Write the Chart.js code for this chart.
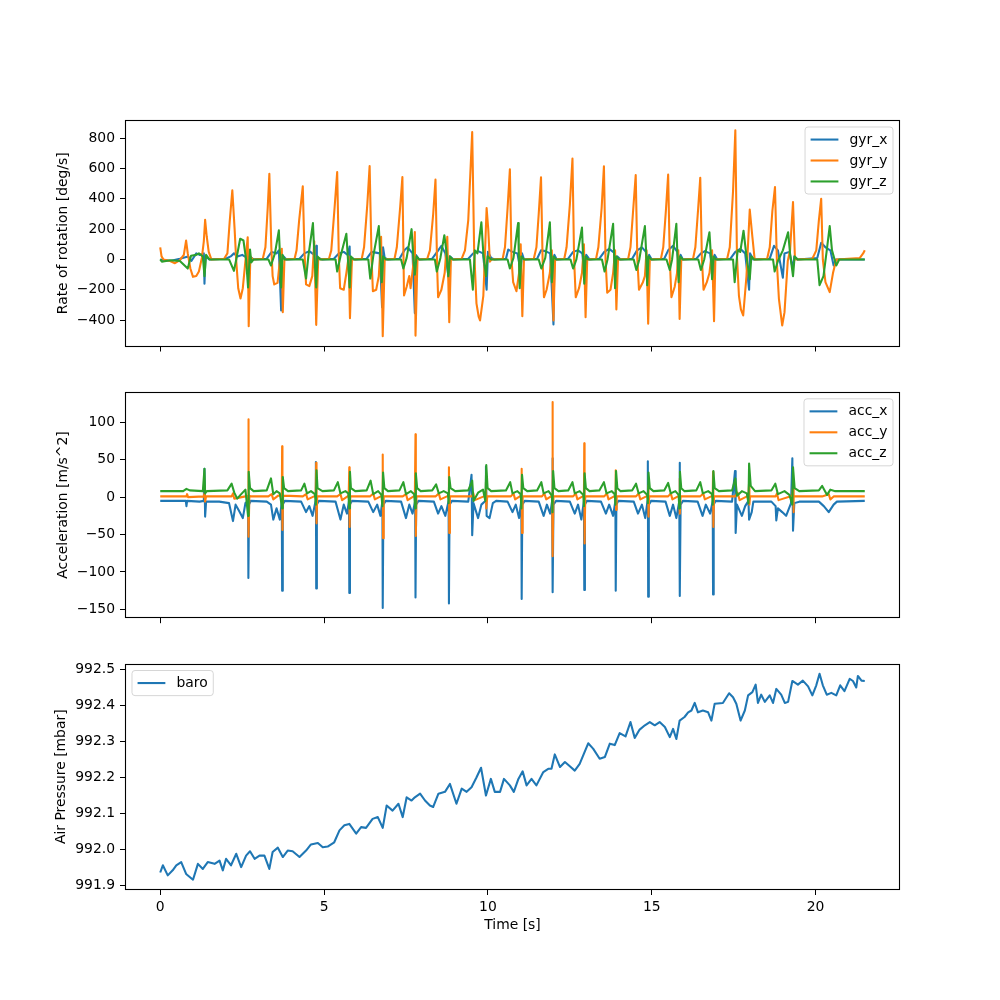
<!DOCTYPE html>
<html><head><meta charset="utf-8">
<script src="https://cdn.jsdelivr.net/npm/chart.js"></script>
<style>
html,body{margin:0;padding:0;background:#fff;}
#wrap{position:relative;width:1000px;height:1000px;background:#fff;}
canvas{position:absolute;left:0;}
</style></head><body>
<div id="wrap">
<canvas id="c1" width="1000" height="370" style="top:0px"></canvas>
<canvas id="c2" width="1000" height="280" style="top:370px"></canvas>
<canvas id="c3" width="1000" height="360" style="top:640px"></canvas>
</div>
<script>
// ---------------- DATA ----------------
const xTicks = [0, 5, 10, 15, 20];
const gyrTicks = [-400, -200, 0, 200, 400, 600, 800];
const accTicks = [-150, -100, -50, 0, 50, 100];
const baroTicks = [991.9, 992.0, 992.1, 992.2, 992.3, 992.4, 992.5];

const gyrLabels = ['gyr_x', 'gyr_y', 'gyr_z'];
const accLabels = ['acc_x', 'acc_y', 'acc_z'];
const baroLabels = ['baro'];

// gyr_x [deg/s]
const gyrXTime = [0,0.30,0.60,0.85,0.95,1.10,1.20,1.33,1.35,1.38,1.50,2.00,2.15,2.25,2.35,2.50,2.65,2.69,2.72,2.85,
3.25,3.40,3.55,3.62,3.69,3.72,3.85,
4.25,4.40,4.55,4.70,4.76,4.78,4.82,4.95,
5.30,5.45,5.60,5.72,5.78,5.80,5.84,5.95,
6.30,6.45,6.58,6.70,6.77,6.80,6.85,6.95,
7.30,7.45,7.55,7.70,7.77,7.80,7.90,
8.30,8.45,8.58,8.70,8.80,8.84,8.95,
9.40,9.55,9.70,9.85,9.96,10.00,10.10,10.20,
10.55,10.62,10.75,10.90,11.00,11.04,11.10,
11.50,11.62,11.75,11.90,12.00,12.03,12.10,
12.45,12.60,12.75,12.88,12.97,13.00,13.10,
13.40,13.55,13.70,13.85,13.91,13.95,14.05,
14.40,14.55,14.70,14.82,14.88,14.92,15.00,
15.38,15.50,15.65,15.78,15.85,15.88,15.95,
16.36,16.50,16.62,16.78,16.89,16.92,17.00,
17.40,17.55,17.70,17.85,17.97,18.00,18.10,
18.60,18.73,18.85,19.00,19.05,19.20,19.30,19.35,19.45,
20.05,20.17,20.30,20.45,20.55,20.62,21.50];
const gyrX = [0,-10,5,20,-10,40,30,40,-160,20,0,5,20,40,20,30,10,-60,20,0,
5,50,40,60,-337,30,0,
5,40,55,30,90,-60,10,0,
5,40,50,30,85,-120,10,0,
5,50,45,40,-315,80,10,0,
5,60,80,40,-355,30,0,
5,50,90,40,-120,20,0,
5,40,55,40,-200,50,10,0,
5,65,50,40,-80,40,0,
5,60,55,40,-430,30,0,
5,50,60,40,-150,30,0,
5,50,70,45,-100,20,0,
5,60,80,50,-130,30,0,
5,60,90,50,-100,30,0,
5,40,55,40,-150,30,0,
5,50,70,40,-200,40,0,
5,90,60,-120,40,50,-60,20,0,
10,110,80,60,-40,0,0];

// gyr_y [deg/s]
const gyrYTime = [0,0.04,0.10,0.30,0.45,0.60,0.72,0.79,0.84,0.92,1.00,1.10,1.18,1.27,1.33,1.37,1.42,1.48,1.56,1.95,
2.05,2.12,2.20,2.27,2.32,2.38,2.45,2.52,2.60,2.67,2.70,2.75,2.82,
3.13,3.21,3.28,3.33,3.39,3.43,3.48,3.58,3.65,3.71,3.74,3.79,
4.10,4.16,4.24,4.35,4.40,4.45,4.55,4.64,4.70,4.76,4.82,
5.15,5.22,5.32,5.40,5.45,5.49,5.60,5.68,5.75,5.79,5.85,
6.15,6.22,6.32,6.39,6.45,6.49,6.59,6.67,6.74,6.79,6.85,
7.15,7.22,7.32,7.39,7.44,7.52,7.60,7.64,7.72,7.77,7.79,7.85,
8.15,8.23,8.33,8.40,8.45,8.48,8.58,8.68,8.76,8.82,8.87,
9.20,9.30,9.40,9.52,9.58,9.65,9.72,9.76,9.86,9.92,9.96,10.01,10.06,10.11,
10.45,10.52,10.60,10.67,10.72,10.77,10.87,10.95,11.00,11.05,11.10,
11.40,11.48,11.55,11.62,11.67,11.71,11.79,11.89,11.95,12.00,12.05,
12.33,12.40,12.50,12.58,12.63,12.68,12.78,12.87,12.93,12.98,13.03,
13.30,13.37,13.47,13.54,13.59,13.64,13.74,13.82,13.88,13.92,13.97,
14.28,14.35,14.43,14.51,14.56,14.61,14.73,14.79,14.84,14.89,14.94,
15.28,15.35,15.43,15.50,15.55,15.60,15.70,15.77,15.81,15.85,15.90,
16.26,16.33,16.41,16.48,16.53,16.58,16.68,16.76,16.84,16.90,16.94,
17.30,17.38,17.48,17.55,17.60,17.66,17.72,17.79,17.89,17.99,18.07,18.14,
18.52,18.60,18.68,18.76,18.82,18.88,18.98,19.05,19.15,19.22,19.31,19.37,
19.90,20.02,20.10,20.17,20.22,20.30,20.43,20.53,20.63,21.35,21.45,21.50];
const gyrY = [80,20,0,-10,-25,-5,30,125,40,-60,-115,-110,-80,10,120,262,150,50,0,5,
40,250,456,200,-10,-190,-258,-190,-10,147,-441,20,0,
5,80,340,566,80,-110,-165,-155,-10,70,-348,0,
5,60,260,483,60,-165,-176,-110,120,-432,0,
5,60,340,577,20,-190,-200,-90,20,-388,0,
5,80,365,617,0,-210,-200,-110,150,-507,0,
5,80,340,544,-238,-180,-110,-190,-40,181,-503,0,
5,60,300,527,-50,-250,-200,-90,150,-414,0,
5,60,260,842,60,-290,-380,-403,-240,100,339,200,-15,0,
5,80,340,595,0,-150,-210,-90,100,-375,0,
5,80,300,542,-15,-250,-200,-90,60,-403,0,
5,80,360,666,0,-250,-190,-90,100,-381,0,
5,80,340,615,0,-220,-200,-90,60,-331,0,
5,80,320,557,0,-200,-150,-110,60,-425,0,
5,80,320,560,0,-250,-180,-90,60,-393,0,
5,80,320,540,0,-200,-150,-90,60,-408,0,
5,80,450,853,20,-240,-330,-370,-110,330,150,0,
5,80,320,478,-30,-260,-436,-350,-10,60,379,0,
5,60,260,401,0,-150,-216,-90,0,10,40,60];

// gyr_z [deg/s]
const gyrZTime = [0.00,0.05,0.30,0.60,0.84,0.94,1.10,1.18,1.30,1.35,1.40,1.50,
2.10,2.25,2.32,2.44,2.54,2.62,2.68,2.74,2.78,2.85,
3.30,3.38,3.50,3.62,3.66,3.69,3.73,3.80,
4.35,4.45,4.52,4.66,4.70,4.76,4.80,4.88,
5.35,5.40,5.50,5.68,5.72,5.78,5.82,5.90,
6.35,6.41,6.50,6.67,6.71,6.76,6.80,6.88,
7.35,7.42,7.52,7.67,7.72,7.77,7.82,7.90,
8.38,8.44,8.55,8.67,8.73,8.79,8.84,8.92,
9.45,9.54,9.60,9.68,9.80,9.86,9.94,9.99,10.10,
10.60,10.67,10.78,10.92,10.94,10.97,11.02,11.10,
11.55,11.63,11.75,11.89,11.92,11.95,12.00,12.08,
12.52,12.60,12.70,12.87,12.90,12.94,12.98,13.05,
13.48,13.56,13.65,13.82,13.85,13.88,13.92,14.00,
14.45,14.53,14.62,14.79,14.83,14.86,14.90,14.98,
15.45,15.55,15.62,15.75,15.78,15.82,15.86,15.95,
16.42,16.50,16.60,16.76,16.80,16.84,16.88,16.95,
17.48,17.53,17.62,17.70,17.80,17.88,17.99,18.04,18.12,
18.70,18.75,18.85,19.00,19.16,19.22,19.31,19.36,19.45,
20.05,20.12,20.24,20.34,20.43,20.50,20.63,20.72,21.50];
const gyrZ = [0,-15,-5,-10,-60,25,30,40,20,-110,30,0,
0,-75,0,137,125,0,-185,65,-20,0,
0,-40,40,192,0,-185,30,0,
0,-126,20,240,50,-185,20,0,
0,-80,20,170,30,-185,20,0,
0,-126,20,220,40,-150,20,0,
0,-60,10,200,30,-100,20,0,
0,-80,10,160,60,-110,20,0,
0,-200,60,40,245,40,-110,20,0,
0,-60,10,240,60,-190,20,0,
0,-60,10,245,60,-150,20,0,
0,-60,0,210,40,-160,20,0,
0,-80,0,235,40,-190,20,0,
0,-70,0,220,40,-170,20,0,
0,-70,0,235,40,-150,20,0,
0,-70,0,180,40,-130,20,0,
0,-150,60,50,190,40,-130,20,0,
0,-80,-10,60,180,40,-110,20,0,
0,-170,-110,60,220,60,-40,0,0];

// acc_x [m/s^2]
const accXTime = [0.00,0.50,0.78,0.80,0.82,1.20,1.33,1.35,1.37,1.40,1.80,
2.10,2.22,2.30,2.40,2.52,2.60,2.68,2.69,2.71,2.76,
3.25,3.38,3.45,3.55,3.65,3.71,3.72,3.74,3.80,
4.30,4.45,4.55,4.65,4.74,4.75,4.76,4.78,4.84,
5.35,5.50,5.60,5.70,5.76,5.77,5.79,5.85,
6.35,6.50,6.62,6.72,6.78,6.79,6.81,6.88,
7.35,7.50,7.60,7.70,7.78,7.79,7.81,7.88,
8.35,8.48,8.58,8.70,8.80,8.81,8.83,8.90,
9.40,9.50,9.52,9.56,9.70,9.80,9.92,9.94,9.96,10.05,10.15,10.25,
10.60,10.75,10.85,10.95,11.02,11.03,11.05,11.12,
11.55,11.70,11.80,11.90,11.96,11.97,11.98,12.00,12.08,
12.50,12.65,12.75,12.85,12.93,12.94,12.96,13.02,
13.45,13.60,13.70,13.82,13.89,13.90,13.92,13.98,
14.45,14.58,14.70,14.80,14.87,14.88,14.89,14.91,14.98,
15.42,15.55,15.65,15.75,15.84,15.85,15.86,15.88,15.95,
16.40,16.55,16.65,16.78,16.86,16.87,16.89,16.95,
17.45,17.54,17.56,17.60,17.75,17.85,17.95,17.97,18.05,18.10,
18.65,18.78,18.80,18.85,18.98,19.10,19.25,19.29,19.31,19.35,19.50,
20.10,20.25,20.40,20.55,20.65,21.50];
const accX = [-5,-5,-5,-12,-5,-6,-5,38,-26,-6,-6,
-8,-32,-10,-18,-28,-8,-5,-108,-10,-5,
-6,-10,-30,-15,-30,-5,-125,-10,-5,
-6,-20,-12,-25,-5,47,-122,-10,-5,
-6,-30,-10,-22,-5,-128,-10,-5,
-6,-20,-10,-25,-5,-148,-10,-5,
-6,-28,-10,-22,-5,-134,-10,-5,
-6,-22,-12,-25,-5,-142,-10,-5,
-6,30,-51,-8,-28,-10,-5,41,-25,-28,-8,-5,
-6,-20,-10,-28,-5,-136,-10,-5,
-6,-25,-10,-22,-5,52,-127,-10,-5,
-6,-22,-10,-30,-5,-124,-10,-5,
-6,-22,-10,-25,-5,-125,-10,-5,
-6,-22,-10,-28,-5,48,-133,-10,-5,
-6,-25,-10,-28,-5,46,-132,-10,-5,
-6,-25,-10,-22,-5,-130,-10,-5,
-6,35,-48,-10,-25,-12,-5,-30,-20,-6,
-6,-12,-31,-15,-20,-25,-8,52,-45,-8,-6,
-6,-12,-20,-10,-6,-5];

// acc_y [m/s^2]
const accYTime = [0.00,0.80,0.82,0.85,1.33,1.35,1.37,1.40,
2.18,2.22,2.26,2.60,2.68,2.69,2.70,2.72,2.76,
3.30,3.40,3.45,3.60,3.71,3.72,3.73,3.75,
4.35,4.45,4.50,4.74,4.76,4.77,4.79,
5.40,5.50,5.55,5.75,5.77,5.78,5.80,
6.40,6.50,6.55,6.77,6.79,6.80,6.82,
7.40,7.50,7.55,7.77,7.79,7.80,7.82,
8.40,8.50,8.55,8.80,8.81,8.82,8.84,
9.52,9.55,9.60,9.93,9.94,9.95,9.98,
10.70,10.78,10.83,11.01,11.03,11.04,11.06,
11.65,11.72,11.78,11.96,11.97,11.98,12.00,
12.60,12.68,12.73,12.93,12.94,12.95,12.97,
13.55,13.63,13.68,13.89,13.90,13.91,13.93,
14.52,14.60,14.65,14.88,14.89,14.90,14.92,
15.50,15.58,15.63,15.84,15.85,15.86,15.88,
16.48,16.57,16.62,16.86,16.87,16.88,16.90,
17.55,17.62,17.68,17.95,17.97,17.98,18.00,
18.78,18.82,18.87,19.29,19.31,19.32,19.34,
20.20,20.40,20.45,20.55,21.50];
const accY = [1,1,4,0,1,5,-6,1,
1,5,-2,1,2,104,-53,2,1,
1,4,-3,2,2,68,-44,2,
1,4,-3,2,46,-35,1,
1,4,-4,2,40,-40,1,
1,5,-3,2,57,-55,1,
1,4,-4,2,84,-52,1,
1,5,-3,2,40,-48,1,
1,6,-4,2,20,-15,1,
1,5,-3,2,38,-48,1,
1,5,-3,2,127,-79,1,
1,5,-3,2,72,-62,1,
1,5,-3,2,36,-17,1,
1,5,-3,2,15,-26,1,
1,5,-3,2,25,-22,1,
1,5,-3,2,34,-40,1,
1,6,-4,2,20,-10,1,
1,5,-4,2,15,-20,1,
1,4,-3,1,1];

// acc_z [m/s^2]
const accZTime = [0.00,0.70,0.80,0.90,1.30,1.35,1.37,1.42,
2.05,2.18,2.26,2.35,2.45,2.60,2.68,2.70,2.74,2.85,
3.25,3.38,3.45,3.55,3.65,3.72,3.74,3.78,3.90,
4.30,4.40,4.48,4.60,4.72,4.75,4.77,4.80,4.95,
5.30,5.42,5.50,5.65,5.74,5.77,5.79,5.82,5.95,
6.30,6.42,6.50,6.65,6.75,6.78,6.80,6.84,6.95,
7.30,7.42,7.50,7.65,7.75,7.78,7.80,7.84,7.95,
8.30,8.42,8.50,8.65,8.78,8.80,8.82,8.86,9.00,
9.40,9.52,9.56,9.70,9.85,9.92,9.95,9.99,10.10,
10.55,10.68,10.75,10.90,11.00,11.02,11.04,11.08,11.20,
11.50,11.63,11.70,11.85,11.95,11.97,11.99,12.03,12.15,
12.45,12.58,12.65,12.80,12.91,12.93,12.95,12.99,13.10,
13.40,13.54,13.62,13.78,13.87,13.89,13.91,13.95,14.05,
14.40,14.52,14.60,14.75,14.86,14.88,14.90,14.94,15.05,
15.38,15.50,15.58,15.72,15.82,15.84,15.86,15.90,16.00,
16.36,16.48,16.56,16.72,16.84,16.86,16.88,16.92,17.05,
17.45,17.55,17.60,17.75,17.90,17.95,17.97,18.02,18.15,
18.65,18.77,18.85,19.05,19.20,19.29,19.31,19.36,19.50,
20.10,20.20,20.35,20.45,20.60,21.50];
const accZ = [8,8,11,9,8,38,5,8,
9,18,6,-2,3,10,-25,34,12,8,
9,25,4,8,5,-15,27,12,8,
9,18,5,8,4,-10,36,12,8,
9,20,5,8,5,-15,34,12,8,
9,22,4,8,3,-12,33,12,8,
9,20,4,8,4,-15,32,12,8,
9,17,5,8,5,-8,27,12,8,
9,22,-5,6,10,-5,43,12,8,
9,20,5,8,4,-15,30,12,8,
9,20,5,8,2,-20,35,12,8,
9,20,5,8,3,-12,32,12,8,
9,20,5,8,4,-10,35,12,8,
9,18,5,8,3,-8,33,12,8,
9,19,5,8,3,-15,34,12,8,
9,20,5,8,4,-10,35,12,8,
9,25,2,8,5,-8,45,15,8,
9,18,4,8,3,-10,40,12,8,
9,15,3,10,8,8];

// baro [mbar]
const baroTime = [0.00,0.08,0.23,0.38,0.49,0.64,0.79,1.00,1.15,1.30,
1.45,1.66,1.81,1.91,2.01,2.16,2.32,2.47,2.62,2.74,
2.88,3.03,3.18,3.33,3.43,3.59,3.74,3.89,4.04,4.25,
4.45,4.60,4.81,4.96,5.11,5.31,5.47,5.62,5.77,5.98,
6.13,6.28,6.48,6.64,6.79,6.91,7.09,7.27,7.40,7.52,
7.67,7.77,7.93,8.08,8.23,8.33,8.49,8.69,8.84,9.04,
9.20,9.35,9.50,9.65,9.79,9.94,10.09,10.21,10.37,10.49,
10.67,10.79,10.93,11.06,11.18,11.33,11.48,11.69,11.84,11.94,
12.04,12.20,12.35,12.50,12.65,12.80,12.93,13.06,13.21,13.41,
13.57,13.72,13.87,14.02,14.20,14.35,14.48,14.63,14.79,14.94,
15.09,15.24,15.40,15.55,15.65,15.75,15.85,16.00,16.11,16.21,
16.31,16.41,16.56,16.72,16.82,16.92,17.17,17.36,17.48,17.58,
17.71,17.84,17.94,18.07,18.17,18.24,18.34,18.45,18.60,18.70,
18.80,18.95,19.06,19.16,19.29,19.46,19.61,19.77,19.90,20.02,
20.12,20.22,20.34,20.48,20.63,20.75,20.88,21.04,21.14,21.24,
21.29,21.40,21.50];
const baro = [991.936,991.956,991.928,991.942,991.956,991.965,991.932,991.916,991.960,991.946,
991.965,991.960,991.969,991.942,991.974,991.956,991.988,991.951,991.983,991.995,
991.974,991.983,991.983,991.946,991.993,992.005,991.979,991.997,991.995,991.979,
991.997,992.014,992.018,992.006,992.008,992.020,992.053,992.067,992.071,992.044,
992.062,992.060,992.085,992.090,992.060,992.122,992.108,992.127,992.090,992.145,
992.136,992.145,992.155,992.136,992.122,992.118,992.155,992.160,992.182,992.127,
992.169,992.160,992.173,992.200,992.227,992.150,992.196,992.160,992.160,992.196,
992.178,992.160,992.196,992.217,992.178,992.196,992.178,992.215,992.224,992.224,
992.264,992.229,992.243,992.231,992.219,992.238,992.266,992.295,992.280,992.252,
992.257,992.294,992.290,992.323,992.314,992.354,992.310,992.333,992.345,992.354,
992.345,992.354,992.340,992.312,992.335,992.307,992.358,992.368,992.381,992.386,
992.407,992.381,992.386,992.381,992.358,992.405,992.407,992.434,992.423,992.405,
992.358,992.386,992.428,992.437,992.458,992.407,992.430,992.410,992.428,992.407,
992.446,992.430,992.407,992.410,992.468,992.458,992.469,992.453,992.428,992.456,
992.488,992.456,992.430,992.435,992.428,992.456,992.440,992.474,992.468,992.450,
992.482,992.469,992.468];

// ---------------- RENDERING ----------------
const C_BLUE = '#1f77b4', C_ORANGE = '#ff7f0e', C_GREEN = '#2ca02c';
const FAMILY = '"DejaVu Sans", "Liberation Sans", sans-serif';
const FS = 13.9;
const LW = 2.08;
const FONT = {family: FAMILY, size: FS};
Chart.defaults.font.family = FAMILY;
Chart.defaults.font.size = FS;
Chart.defaults.color = '#000';

function pts(t, v) {
  const n = Math.min(t.length, v.length), a = [];
  for (let i = 0; i < n; i++) a.push({x: t[i], y: v[i]});
  return a;
}
function ds(label, t, v, color, order) {
  return {label, data: pts(t, v), borderColor: color, backgroundColor: color,
    borderWidth: LW, pointRadius: 0, pointHoverRadius: 0, tension: 0, fill: false,
    order, borderJoinStyle: 'round', borderCapStyle: 'butt'};
}
function fmtInt(v) { return (v < 0 ? '\u2212' : '') + Math.abs(Math.round(v)); }
function fmtBaro(v) { return v.toFixed(1); }

const X_MIN = -1.075, X_MAX = 22.575;

function makeScales(o) {
  return {
    x: {
      type: 'linear', min: X_MIN, max: X_MAX,
      afterBuildTicks: s => { s.ticks = xTicks.map(v => ({value: v})); },
      afterFit: s => { s.height = o.xh; },
      ticks: {display: o.xlabels, autoSkip: false, maxRotation: 0, padding: 4, font: FONT, color: '#000',
              callback: v => fmtInt(v)},
      grid: {display: true, drawOnChartArea: false, drawTicks: true, tickLength: 5, color: '#000', lineWidth: 1},
      border: {display: false},
      title: o.xtitle ? {display: true, text: o.xtitle, font: FONT, color: '#000', padding: {top: 0, bottom: 6.7}}
                      : {display: false}
    },
    y: {
      type: 'linear', min: o.ymin, max: o.ymax,
      afterBuildTicks: s => { s.ticks = o.yticks.map(v => ({value: v})); },
      afterFit: s => { s.width = 125; },
      ticks: {padding: 5, font: FONT, color: '#000', callback: o.fmt},
      grid: {display: true, drawOnChartArea: false, drawTicks: true, tickLength: 5, color: '#000', lineWidth: 1},
      border: {display: false},
      title: {display: true, text: o.ytitle, font: FONT, color: '#000', padding: {top: o.ytp, bottom: 0}}
    }
  };
}

const framePlugin = {
  id: 'frame',
  afterDraw(chart) {
    const {ctx, chartArea: ca} = chart;
    ctx.save();
    ctx.strokeStyle = '#000';
    ctx.lineWidth = 1.1;
    const l = Math.round(ca.left) + 0.5, t = Math.round(ca.top) + 0.5;
    const r = Math.round(ca.right) - 0.5, b = Math.round(ca.bottom) - 0.5;
    ctx.strokeRect(l, t, r - l, b - t);
    ctx.restore();
  }
};

const legendPlugin = {
  id: 'mplLegend',
  afterDatasetsDraw(chart, args, opts) {
    if (!opts || !opts.items) return;
    const ctx = chart.ctx, ca = chart.chartArea;
    ctx.save();
    ctx.font = FS + 'px ' + FAMILY;
    const pad = 0.4 * FS, hl = 2 * FS, htp = 0.8 * FS, ls = 0.5 * FS, rowH = 14;
    let tw = 0;
    opts.items.forEach(it => { tw = Math.max(tw, ctx.measureText(it.label).width); });
    const n = opts.items.length;
    const w = pad + hl + htp + tw + pad;
    const h = 2 * pad + n * rowH + (n - 1) * ls;
    const x0 = opts.loc === 'upper left' ? ca.left + 7 : ca.right - 7 - w;
    const y0 = ca.top + 7;
    const rad = 3;
    ctx.beginPath();
    ctx.moveTo(x0 + rad, y0);
    ctx.lineTo(x0 + w - rad, y0); ctx.quadraticCurveTo(x0 + w, y0, x0 + w, y0 + rad);
    ctx.lineTo(x0 + w, y0 + h - rad); ctx.quadraticCurveTo(x0 + w, y0 + h, x0 + w - rad, y0 + h);
    ctx.lineTo(x0 + rad, y0 + h); ctx.quadraticCurveTo(x0, y0 + h, x0, y0 + h - rad);
    ctx.lineTo(x0, y0 + rad); ctx.quadraticCurveTo(x0, y0, x0 + rad, y0);
    ctx.closePath();
    ctx.fillStyle = 'rgba(255,255,255,0.8)';
    ctx.fill();
    ctx.strokeStyle = 'rgba(204,204,204,0.8)';
    ctx.lineWidth = 1;
    ctx.stroke();
    opts.items.forEach((it, i) => {
      const cy = y0 + pad + rowH / 2 + i * (rowH + ls);
      ctx.beginPath();
      ctx.strokeStyle = it.color;
      ctx.lineWidth = LW;
      ctx.moveTo(x0 + pad, cy);
      ctx.lineTo(x0 + pad + hl, cy);
      ctx.stroke();
      ctx.fillStyle = '#000';
      ctx.textBaseline = 'middle';
      ctx.textAlign = 'left';
      ctx.fillText(it.label, x0 + pad + hl + htp, cy + 0.5);
    });
    ctx.restore();
  }
};

function makeChart(id, datasets, scaleOpts, padding, legend) {
  return new Chart(document.getElementById(id), {
    type: 'line',
    data: {datasets},
    options: {
      responsive: false, animation: false, events: [],
      parsing: false, normalized: true,
      layout: {padding},
      scales: makeScales(scaleOpts),
      plugins: {legend: {display: false}, tooltip: {enabled: false}, title: {display: false},
                mplLegend: legend}
    },
    plugins: [legendPlugin, framePlugin]
  });
}

makeChart('c1', [
  ds(gyrLabels[0], gyrXTime, gyrX, C_BLUE, 2),
  ds(gyrLabels[1], gyrYTime, gyrY, C_ORANGE, 1),
  ds(gyrLabels[2], gyrZTime, gyrZ, C_GREEN, 0)
], {xh: 10, xlabels: false, ymin: -575, ymax: 921, yticks: gyrTicks, fmt: v => fmtInt(v),
    ytitle: 'Rate of rotation [deg/s]', ytp: 54.7},
 {left: 0, right: 100, top: 120, bottom: 13.5},
 {loc: 'upper right', items: [
   {label: gyrLabels[0], color: C_BLUE}, {label: gyrLabels[1], color: C_ORANGE}, {label: gyrLabels[2], color: C_GREEN}]});

makeChart('c2', [
  ds(accLabels[0], accXTime, accX, C_BLUE, 2),
  ds(accLabels[1], accYTime, accY, C_ORANGE, 1),
  ds(accLabels[2], accZTime, accZ, C_GREEN, 0)
], {xh: 10, xlabels: false, ymin: -161.75, ymax: 140.75, yticks: accTicks, fmt: v => fmtInt(v),
    ytitle: 'Acceleration [m/s^2]', ytp: 54.7},
 {left: 0, right: 100, top: 21.8, bottom: 21.8},
 {loc: 'upper right', items: [
   {label: accLabels[0], color: C_BLUE}, {label: accLabels[1], color: C_ORANGE}, {label: accLabels[2], color: C_GREEN}]});

makeChart('c3', [
  ds(baroLabels[0], baroTime, baro, C_BLUE, 0)
], {xh: 50, xlabels: true, xtitle: 'Time [s]', ymin: 991.8874, ymax: 992.5166, yticks: baroTicks,
    fmt: v => fmtBaro(v), ytitle: 'Air Pressure [mbar]', ytp: 53.3},
 {left: 0, right: 100, top: 23.5, bottom: 60},
 {loc: 'upper left', items: [{label: baroLabels[0], color: C_BLUE}]});
</script>
</body></html>
